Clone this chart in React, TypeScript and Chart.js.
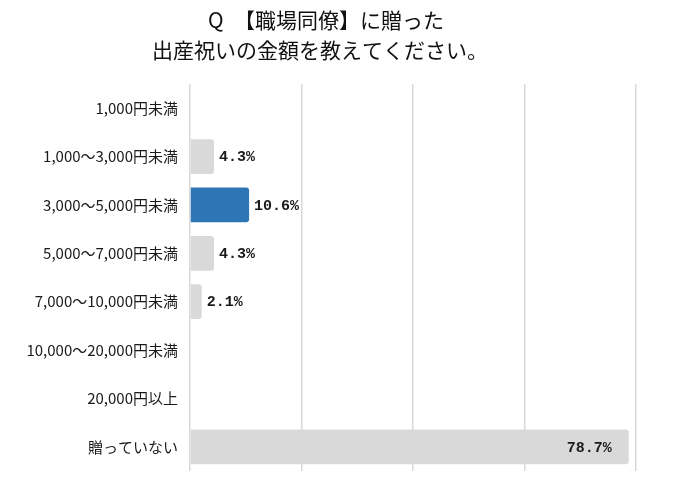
import React, { useEffect, useRef } from "react";
import { Chart, registerables } from "chart.js";

Chart.register(...registerables);

const titleLines = ["Q　【職場同僚】に贈った", "出産祝いの金額を教えてください。"];
const categories = [
  "1,000円未満",
  "1,000〜3,000円未満",
  "3,000〜5,000円未満",
  "5,000〜7,000円未満",
  "7,000〜10,000円未満",
  "10,000〜20,000円未満",
  "20,000円以上",
  "贈っていない",
];
const values = [0, 4.3, 10.6, 4.3, 2.1, 0, 0, 78.7];
const highlightIndex = 2;
const xMax = 80;
const xStep = 20;

const GRAY = "#d9d9d9";
const BLUE = "#2e75b6";

const titlePlugin = {
  id: "customTitle",
  afterDraw(chart: any) {
    const ctx = chart.ctx;
    ctx.save();
    ctx.fillStyle = "#111";
    ctx.font = '21px "Noto Sans CJK JP", sans-serif';
    ctx.textAlign = "center";
    ctx.textBaseline = "middle";
    ctx.fillText(titleLines[0], 318, 12);
    ctx.fillText(titleLines[1], 312, 42);
    ctx.restore();
  },
};

const labelPlugin = {
  id: "barLabels",
  afterDatasetsDraw(chart: any) {
    const ctx = chart.ctx;
    const meta = chart.getDatasetMeta(0);
    ctx.save();
    ctx.fillStyle = "#1a1a1a";
    ctx.font = 'bold 15px "Liberation Mono", monospace';
    ctx.textBaseline = "middle";
    meta.data.forEach((bar: any, i: number) => {
      const v = values[i];
      if (!v) return;
      const text = v.toFixed(1) + "%";
      if (v > 50) {
        ctx.textAlign = "right";
        ctx.fillText(text, bar.x - 17, bar.y + 1);
      } else {
        ctx.textAlign = "left";
        ctx.fillText(text, bar.x + 5, bar.y + 1);
      }
    });
    ctx.restore();
  },
};

export default function App() {
  const ref = useRef<HTMLCanvasElement | null>(null);
  useEffect(() => {
    if (!ref.current) return;
    const chart = new Chart(ref.current, {
      type: "bar",
      data: {
        labels: categories,
        datasets: [
          {
            data: values,
            backgroundColor: values.map((_, i) => (i === highlightIndex ? BLUE : GRAY)),
            borderRadius: 3,
            borderSkipped: "start",
            barPercentage: 0.72,
            categoryPercentage: 1,
          },
        ],
      },
      options: {
        indexAxis: "y",
        animation: false,
        responsive: false,
        maintainAspectRatio: false,
        layout: { padding: { top: 76, right: 36, bottom: 18, left: 0 } },
        plugins: {
          legend: { display: false },
          title: { display: false },
          tooltip: { enabled: false },
        },
        scales: {
          x: {
            min: 0,
            max: xMax,
            ticks: { display: false, stepSize: xStep },
            grid: { color: "#d9d9d9", drawTicks: false, lineWidth: 1.5 },
            border: { display: false },
          },
          y: {
            ticks: {
              color: "#1a1a1a",
              font: { family: '"Noto Sans CJK JP", sans-serif', size: 15 },
              padding: 12,
            },
            grid: { display: false, drawTicks: false },
            border: { display: false },
            afterFit(scale: any) {
              scale.width = 182;
            },
          },
        },
      },
      plugins: [titlePlugin, labelPlugin],
    });
    return () => chart.destroy();
  }, []);
  return (
    <div style={{ width: 664, height: 484 }}>
      <canvas ref={ref} width={664} height={484} />
    </div>
  );
}
